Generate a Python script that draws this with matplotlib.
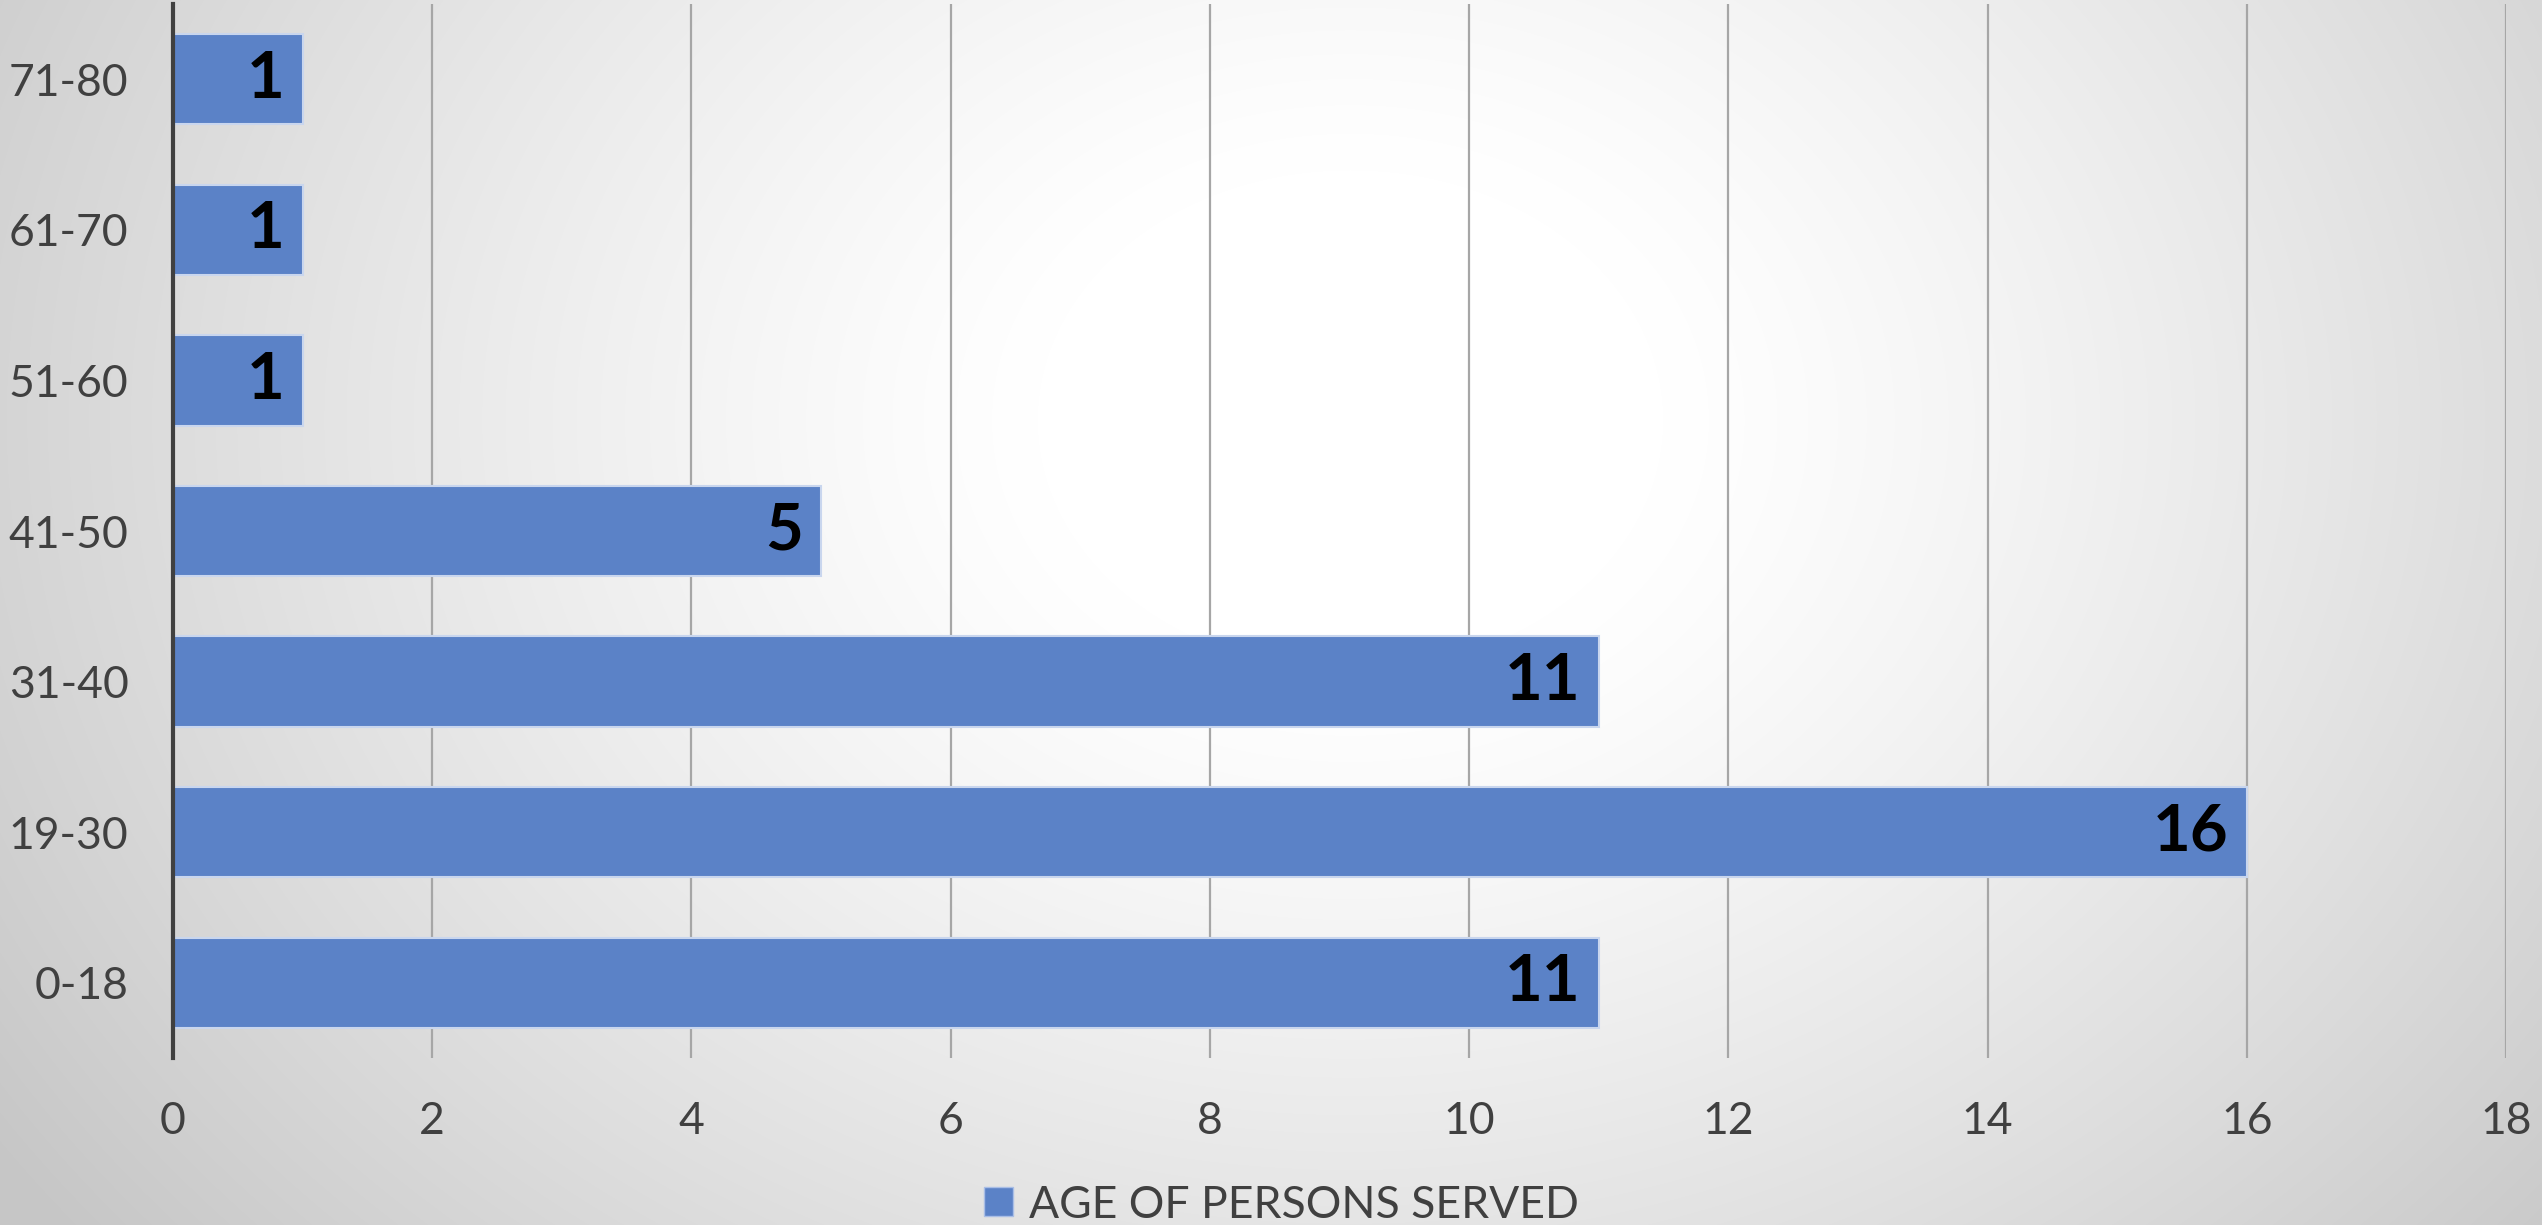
import numpy as np
import matplotlib
matplotlib.use('Agg')
import matplotlib.pyplot as plt
from matplotlib.patches import Patch

# data
categories = ['0-18', '19-30', '31-40', '41-50', '51-60', '61-70', '71-80']
persons = [11, 16, 11, 5, 1, 1, 1]
x_ticks = [0, 2, 4, 6, 8, 10, 12, 14, 16, 18]
series_name = 'AGE OF PERSONS SERVED'

bar_color = '#5B82C7'
text_color = '#404040'

plt.rcParams['font.family'] = ['Lato', 'DejaVu Sans']

W, H = 2542, 1225
fig = plt.figure(figsize=(W / 100, H / 100), dpi=100)

# radial gray background, white in the middle
bg = fig.add_axes([0, 0, 1, 1], zorder=-10)
yy, xx = np.mgrid[0:H, 0:W]
r = np.sqrt(((xx - 1350) / 1.25) ** 2 + (yy - 420) ** 2)
t = np.clip((r - 250) / 1050, 0, 1)
v = 1 - 0.22 * t ** 1.2
bg.imshow(np.dstack([v, v, v]), aspect='auto', extent=[0, 1, 0, 1])
bg.axis('off')

ax = fig.add_axes([173 / W, 1 - 1058 / H, (2506 - 173) / W, (1058 - 4) / H])
ax.set_facecolor('none')

ypos = np.arange(len(categories))
ax.barh(ypos, persons, height=0.6, color=bar_color, edgecolor='#C9D6EE',
        linewidth=1.5, zorder=3)

for i, val in enumerate(persons):
    ax.annotate(str(val), xy=(val, i), xytext=(-13, 0), textcoords='offset points',
                ha='right', va='center', fontsize=47, fontweight='bold',
                color='black', zorder=4)

ax.set_xlim(0, 18)
ax.set_ylim(-0.5, len(categories) - 0.5)
ax.set_xticks(x_ticks)
ax.set_yticks(ypos)
ax.set_yticklabels(categories)
ax.grid(axis='x', color='#A6A6A6', linewidth=1.6, zorder=0)
ax.set_axisbelow(True)
for s in ['top', 'right', 'bottom']:
    ax.spines[s].set_visible(False)
ax.spines['left'].set_color(text_color)
ax.spines['left'].set_linewidth(3)
ax.spines['left'].set_zorder(5)
ax.tick_params(axis='both', length=0, labelsize=32, labelcolor=text_color)
ax.tick_params(axis='x', pad=31)
ax.tick_params(axis='y', pad=32)

handle = Patch(facecolor=bar_color, edgecolor='#A9BEE6', linewidth=1)
fig.legend([handle], [series_name], loc='center', bbox_to_anchor=(1281 / W, 1 - 1205 / H),
           frameon=False, fontsize=32, labelcolor=text_color,
           handlelength=0.65, handleheight=0.63, handletextpad=0.36,
           borderpad=0, borderaxespad=0)

fig.savefig('out.png', dpi=100)
